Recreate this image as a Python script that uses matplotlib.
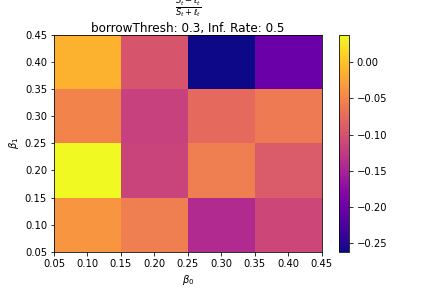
import numpy as np
import matplotlib
matplotlib.use("Agg")
import matplotlib.pyplot as plt

beta0_edges = [0.05, 0.15, 0.25, 0.35, 0.45]
beta1_edges = [0.05, 0.15, 0.25, 0.35, 0.45]
# rows: beta1 = 0.1, 0.2, 0.3, 0.4 ; cols: beta0 = 0.1, 0.2, 0.3, 0.4
values = np.array([
    [-0.037, -0.058, -0.142, -0.112],
    [0.038, -0.115, -0.058, -0.091],
    [-0.052, -0.118, -0.076, -0.061],
    [-0.013, -0.097, -0.262, -0.202],
])
ticks = [0.05, 0.10, 0.15, 0.20, 0.25, 0.30, 0.35, 0.40, 0.45]

fig = plt.figure(figsize=(6, 4), dpi=72)
fig.subplots_adjust(bottom=0.125)
ax = fig.add_subplot(111)
mesh = ax.pcolormesh(beta0_edges, beta1_edges, values, cmap="plasma")
fig.colorbar(mesh, ax=ax)
ax.set_xticks(ticks)
ax.set_yticks(ticks)
ax.set_xlabel(r"$\beta_0$")
ax.set_ylabel(r"$\beta_1$")
ax.set_title(r"$\frac{S_t - \ell_t}{S_t + \ell_t}$" + "\nborrowThresh: 0.3, Inf. Rate: 0.5", pad=2)
fig.savefig("out.png", dpi=72)
